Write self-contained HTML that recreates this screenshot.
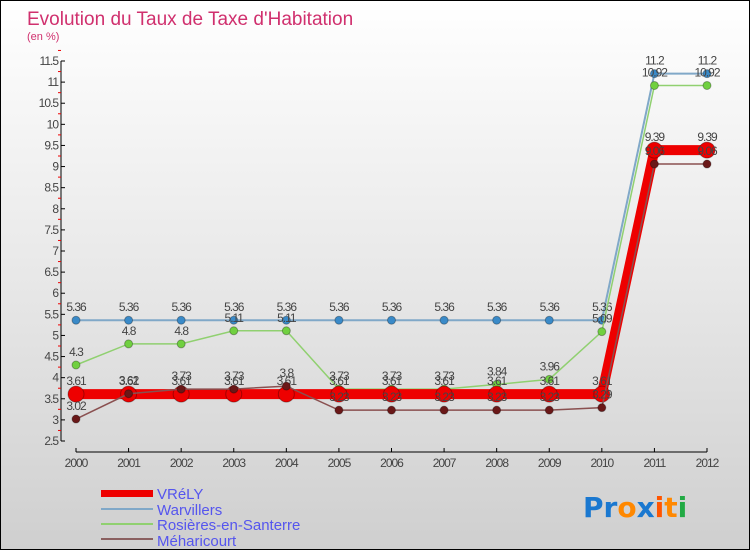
<!DOCTYPE html>
<html><head><meta charset="utf-8"><style>
body{margin:0;width:750px;height:550px;overflow:hidden}
#c{position:relative;width:748px;height:548px;border:1px solid #000;background:linear-gradient(#fff 0%,#e8e8e8 50%,#cfcfcf 100%);font-family:"Liberation Sans",sans-serif}
</style></head><body>
<div id="c">
<svg id="s" width="748" height="548" style="position:absolute;left:0;top:0">
<text x="26" y="24" font-size="19" fill="#d0306e">Evolution du Taux de Taxe d'Habitation</text>
<text x="26" y="39" font-size="11" fill="#d0306e">(en %)</text>
<g>
<rect x="100" y="489" width="52" height="7" fill="#ee0000"/>
<text x="156" y="498" font-size="15" fill="#5555ee">VRéLY</text>
<rect x="100" y="507" width="52" height="2" fill="#80a8c8"/>
<text x="156" y="514" font-size="15" fill="#5555ee">Warvillers</text>
<rect x="100" y="522" width="52" height="2" fill="#90d070"/>
<text x="156" y="529" font-size="15" fill="#5555ee">Rosières-en-Santerre</text>
<rect x="100" y="537" width="52" height="2" fill="#8a6060"/>
<text x="156" y="545" font-size="15" fill="#5555ee">Méharicourt</text>
</g>
<g font-size="28" font-family="'DejaVu Sans',sans-serif" font-weight="bold">
<text x="582" y="516"><tspan fill="#1a78d0">Pr</tspan><tspan fill="#ff8800">o</tspan><tspan fill="#1a78d0">x</tspan><tspan fill="#ff5500">i</tspan><tspan fill="#ff8800">t</tspan><tspan fill="#22aa44">i</tspan></text>
</g>
</svg>
</div>
<script>
const years=[2000,2001,2002,2003,2004,2005,2006,2007,2008,2009,2010,2011,2012];
const vrely=[3.61,3.61,3.61,3.61,3.61,3.61,3.61,3.61,3.61,3.61,3.61,9.39,9.39];
const warvillers=[5.36,5.36,5.36,5.36,5.36,5.36,5.36,5.36,5.36,5.36,5.36,11.2,11.2];
const rosieres=[4.3,4.8,4.8,5.11,5.11,3.73,3.73,3.73,3.84,3.96,5.09,10.92,10.92];
const meharicourt=[3.02,3.62,3.73,3.73,3.8,3.23,3.23,3.23,3.23,3.23,3.29,9.06,9.06];
const yTicks=[2.5,3,3.5,4,4.5,5,5.5,6,6.5,7,7.5,8,8.5,9,9.5,10,10.5,11,11.5];
const NS='http://www.w3.org/2000/svg';
const svg=document.getElementById('s');
const X=i=>75+(706-75)*i/(years.length-1);
const Y=v=>440-(v-2.5)*(380/9);
function el(t,a,p){const e=document.createElementNS(NS,t);for(const k in a)e.setAttribute(k,a[k]);(p||svg).appendChild(e);return e;}
const ax=el('g',{});


el('line',{x1:60,y1:Y(11.5),x2:60,y2:Y(2.5),stroke:'#000'},ax);
yTicks.forEach(v=>{
 el('line',{x1:60,y1:Y(v),x2:64,y2:Y(v),stroke:'#000'},ax);
 el('line',{x1:57,y1:Y(v+0.25),x2:60,y2:Y(v+0.25),stroke:'#e00'},ax);
 const t=el('text',{x:57,y:Y(v)+4,'font-size':12,fill:'#444','text-anchor':'end','letter-spacing':'-1'},ax);
 t.textContent=v;
 
 
});
el('line',{x1:75,y1:451,x2:706,y2:451,stroke:'#000'},ax);
years.forEach((y,i)=>{
 el('line',{x1:X(i),y1:447,x2:X(i),y2:451,stroke:'#000'},ax);
 const t=el('text',{x:X(i),y:466,'font-size':12,fill:'#444','text-anchor':'middle','letter-spacing':'-1'},ax);
 t.textContent=y;
 
 
});
function series(name,data,color,w,r,fill){
 const g=el('g',{});
 
 
 el('polyline',{points:data.map((v,i)=>X(i)+','+Y(v)).join(' '),fill:'none',stroke:color,'stroke-width':w},g);
 data.forEach((v,i)=>{
  const c=el('circle',{cx:X(i),cy:Y(v),r:r,fill:fill,stroke:'rgba(0,0,0,0.3)'},g);
  
  
  const t=el('text',{x:X(i),y:Y(v)-9,'font-size':12,fill:'#444','text-anchor':'middle','letter-spacing':'-1'},g);
  t.textContent=v;
  
  
 });
}
series('warvillers',warvillers,'#80a8c8',2,4,'#3a8ac8');
series('rosieres',rosieres,'#90d070',1.5,4,'#70d040');
series('vrely',vrely,'#ee0000',10,8,'#ee0000');
series('meharicourt',meharicourt,'#8a5050',1.5,4,'#6a1818');
</script>
</body></html>
